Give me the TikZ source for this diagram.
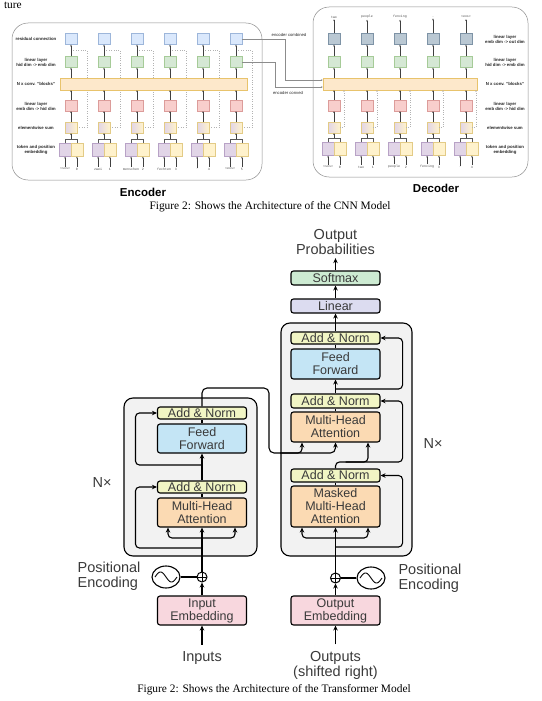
\documentclass[tikz,border=0pt]{standalone}
\usepackage{fontspec}
\setmainfont{Liberation Serif}
\setsansfont{Liberation Sans}
\setmonofont{Liberation Mono}
\usetikzlibrary{arrows.meta,shapes.geometric}
\pgfdeclarelayer{bg}
\pgfsetlayers{bg,main}

% CNN colours
\definecolor{cblue}{HTML}{DAE8FC}\definecolor{cblueD}{HTML}{9DB6DA}
\definecolor{cgreen}{HTML}{D5E8D4}\definecolor{cgreenD}{HTML}{A6CB98}
\definecolor{cred}{HTML}{F8CECC}\definecolor{credD}{HTML}{DC9C9A}
\definecolor{cpurple}{HTML}{E1D5E7}\definecolor{cpurpleD}{HTML}{B8A2C6}
\definecolor{cyellow}{HTML}{FFF2CC}\definecolor{cyellowD}{HTML}{E3CB86}
\definecolor{cconv}{HTML}{FDE8CB}\definecolor{cconvD}{HTML}{E8C36C}
\definecolor{cdark}{HTML}{BAC8D3}\definecolor{cdarkD}{HTML}{7E93A6}
% transformer colours
\definecolor{tsoft}{HTML}{CDEBD2}
\definecolor{tlin}{HTML}{DCDCF0}
\definecolor{tnorm}{HTML}{F1F5C4}
\definecolor{tff}{HTML}{C4E5F5}
\definecolor{tmha}{HTML}{FBDAB3}
\definecolor{temb}{HTML}{F8D7DE}
\definecolor{tstack}{HTML}{F2F2F2}
\definecolor{ttext}{HTML}{3A3A3A}

\tikzset{
  cnnbox/.style={minimum width=11.5pt, minimum height=11pt, inner sep=0pt, line width=.35pt},
  convbox/.style={fill=cconv, draw=cconvD, line width=.45pt, minimum height=12pt, inner sep=0pt},
  cnnarr/.style={-{Stealth[length=1.8pt,width=1.5pt]}, draw=black!75, line width=.3pt},
  cnnline/.style={draw=black!65, line width=.3pt},
  resline/.style={draw=black!30, dotted, line width=.4pt},
  encline/.style={draw=black!45, line width=.35pt},
  cnnframe/.style={draw=black!45, line width=.5pt, rounded corners=16pt},
  cnnlbl/.style={font=\fontsize{4.3}{5}\selectfont\sffamily\bfseries, text=black!85, align=center, inner sep=0pt},
  toklbl/.style={font=\fontsize{3.3}{4}\selectfont\ttfamily, text=black!70, inner sep=1pt},
  partname/.style={font=\fontsize{11.5}{12}\selectfont\sffamily\bfseries},
  capt/.style={font=\fontsize{11.4}{12}\selectfont, anchor=base},
  tblock/.style={draw=black, line width=1.1pt, rounded corners=2.5pt, minimum width=89pt,
    inner sep=0pt, align=center, font=\fontsize{12.5}{13}\selectfont\sffamily, text=ttext},
  tstackbox/.style={draw=black, fill=tstack, line width=1.1pt, rounded corners=9pt},
  tarr/.style={-{Stealth[length=5pt,width=4.5pt]}, line width=1.1pt},
  tline/.style={line width=1.1pt},
  tlbl/.style={font=\fontsize{14.5}{15}\selectfont\sffamily, text=ttext, align=center},
  tplus/.style={circle, draw, fill=white, line width=1pt, minimum size=10pt, inner sep=0pt,
    path picture={\draw[line width=.8pt] (path picture bounding box.north) -- (path picture bounding box.south)
      (path picture bounding box.west) -- (path picture bounding box.east);}},
  tpe/.style={ellipse, draw, fill=white, line width=1.1pt, minimum width=28pt, minimum height=22pt, inner sep=0pt,
    path picture={\draw[line width=.9pt, domain=-1:1, samples=40, shift={(path picture bounding box.center)}]
      plot ({11*\x}, {5*sin(180*\x)});}},
}

\begin{document}
\begin{tikzpicture}[x=1pt, y=-1pt]
\useasboundingbox (0,0) rectangle (541,701);

\node[capt, anchor=base west] (cutline) at (0.5,8.5) {ture};

% ---------- CNN encoder ----------
\draw[cnnframe] (12,23) rectangle (262,180);
\node[convbox, minimum width=187pt] (encconv) at (153.5,84) {};
\foreach \px/\w/\n [count=\i] in {71/{<sos>}/0, 104/zwei/1, 137/menschen/2, 170/fechten/3, 203/./4, 236/{<eos>}/5} {
  \node[cnnbox, fill=cblue, draw=cblueD] (encres\i) at (\px,39) {};
  \node[cnnbox, fill=cgreen, draw=cgreenD] (encout\i) at (\px,62) {};
  \node[cnnbox, fill=cred, draw=credD] (encin\i) at (\px,105.5) {};
  \node[cnnbox, left color=cpurple, right color=cyellow, draw=cyellowD] (encsum\i) at (\px,127.5) {};
  \node[cnnbox, minimum height=13pt, fill=cpurple, draw=cpurpleD, anchor=east] (enctok\i) at (\px,150) {};
  \node[cnnbox, minimum height=13pt, fill=cyellow, draw=cyellowD, anchor=west] (encpos\i) at (\px,150) {};
  \node[toklbl] (encw\i) at (enctok\i |- 0,169) {\w};
  \node[toklbl] (encn\i) at (encpos\i |- 0,169) {\n};
  \draw[cnnarr] (encw\i) -- (enctok\i);
  \draw[cnnarr] (encn\i) -- (encpos\i);
  \draw[cnnline] (enctok\i.north) -- ++(0,-4.5) -| (encpos\i.north);
  \draw[cnnarr] (\px,139) -- (encsum\i);
  \draw[cnnarr] (encsum\i) -- (encin\i);
  \draw[cnnarr] (encin\i) -- (encin\i |- encconv.south);
  \draw[cnnarr] (encout\i |- encconv.north) -- (encout\i);
  \draw[cnnarr] (encout\i) -- (encres\i);
  \begin{pgfonlayer}{bg}
    \draw[resline] (encsum\i.east) -| (\px+16,50) -- (\px+2,50);
  \end{pgfonlayer}
}
\node[cnnlbl] (lres) at (36,39) {residual connection};
\node[cnnlbl] (lhid) at (36,62) {linear layer\\hid dim -> emb dim};
\node[cnnlbl] (lconv) at (36,84) {N x conv. "blocks"};
\node[cnnlbl] (lemb) at (36,106) {linear layer\\emb dim -> hid dim};
\node[cnnlbl] (lsum) at (36,127.5) {elementwise sum};
\node[cnnlbl] (ltok) at (36,150) {token and position\\embedding};
\node[partname] (encname) at (143,192) {Encoder};

% ---------- CNN decoder ----------
\draw[cnnframe] (313,7) rectangle (528,177);
\node[convbox, minimum width=154pt] (decconv) at (400,84) {};
\foreach \px/\w/\n/\o [count=\i] in {334/{<sos>}/0/two, 367/two/1/people, 400/people/2/fencing, 433/fencing/3/., 466/./4/{<eos>}} {
  \node[toklbl] (deco\i) at (\px,17) {\o};
  \node[cnnbox, fill=cdark, draw=cdarkD] (decres\i) at (\px,39) {};
  \node[cnnbox, fill=cgreen, draw=cgreenD] (decout\i) at (\px,62) {};
  \node[cnnbox, fill=cred, draw=credD] (decin\i) at (\px,105.5) {};
  \node[cnnbox, left color=cpurple, right color=cyellow, draw=cyellowD] (decsum\i) at (\px,127.5) {};
  \node[cnnbox, minimum height=13pt, fill=cpurple, draw=cpurpleD, anchor=east] (dectok\i) at (\px,149) {};
  \node[cnnbox, minimum height=13pt, fill=cyellow, draw=cyellowD, anchor=west] (decpos\i) at (\px,149) {};
  \node[toklbl] (decw\i) at (dectok\i |- 0,167) {\w};
  \node[toklbl] (decn\i) at (decpos\i |- 0,167) {\n};
  \draw[cnnarr] (decw\i) -- (dectok\i);
  \draw[cnnarr] (decn\i) -- (decpos\i);
  \draw[cnnline] (dectok\i.north) -- ++(0,-4.5) -| (decpos\i.north);
  \draw[cnnarr] (\px,138) -- (decsum\i);
  \draw[cnnarr] (decsum\i) -- (decin\i);
  \draw[cnnarr] (decin\i) -- (decin\i |- decconv.south);
  \draw[cnnarr] (decout\i |- decconv.north) -- (decout\i);
  \draw[cnnarr] (decout\i) -- (decres\i);
  \draw[cnnarr] (decres\i) -- (deco\i);
  \draw[resline, -{Stealth[length=1.8pt,width=1.5pt]}] (decsum\i.east) -| (\px+10,90);
}
\node[cnnlbl] (rout) at (505,39) {linear layer\\emb dim -> out dim};
\node[cnnlbl] (rhid) at (505,62) {linear layer\\hid dim -> emb dim};
\node[cnnlbl] (rconv) at (505,84) {N x conv. "blocks"};
\node[cnnlbl] (remb) at (505,106) {linear layer\\emb dim -> hid dim};
\node[cnnlbl] (rsum) at (505,127.5) {elementwise sum};
\node[cnnlbl] (rtok) at (505,150) {token and position\\embedding};
\node[partname] (decname) at (436,188) {Decoder};

% encoder -> decoder
\draw[encline, -{Stealth[length=1.8pt,width=1.5pt]}] (encres6.east) -| (285,80) -- (decconv.west |- 0,80);
\draw[encline, -{Stealth[length=1.8pt,width=1.5pt]}] (encout6.east) -| (275,87) -- (decconv.west |- 0,87);
\node[cnnlbl, font=\fontsize{4.2}{5}\selectfont\sffamily] (lcomb) at (289,34.5) {encoder combined};
\node[cnnlbl, font=\fontsize{4.2}{5}\selectfont\sffamily] (lconved) at (288,93) {encoder conved};

\node[capt] (cnncap) at (270,209) {Figure 2: Shows the Architecture of the CNN Model};

% ---------- Transformer ----------
\draw[tstackbox] (124,398) rectangle (257,556);
\draw[tstackbox] (281,323) rectangle (412,556);

% encoder stack
\node[tblock, fill=temb, minimum height=29pt] (inemb) at (202,610.5) {Input\\Embedding};
\node[tlbl] (inputs) at (202,658) {Inputs};
\node[tplus] (encplus) at (202,577) {};
\node[tpe] (encpe) at (166,577) {};
\node[tlbl, align=left, anchor=east] (encpetxt) at (144,576) {Positional\\Encoding};
\node[tblock, fill=tmha, minimum height=29pt] (encmha) at (202,512.5) {Multi-Head\\Attention};
\node[tblock, fill=tnorm, minimum height=12pt] (encnorm1) at (202,487) {Add \& Norm};
\node[tblock, fill=tff, minimum height=29pt] (encff) at (202,438.5) {Feed\\Forward};
\node[tblock, fill=tnorm, minimum height=12pt] (encnorm2) at (202,413) {Add \& Norm};
\node[tlbl] (encnx) at (102,483) {N×};

\coordinate (encsplit) at (202,538);
\coordinate (encres1) at (202,548);
\coordinate (encres2) at (202,465);
\draw[tarr, shorten <=3pt] (inputs) -- (inemb);
\draw[tarr] (inemb) -- (encplus);
\draw[tline] (encpe) -- (encplus);
\draw[tarr] (encplus) -- (encmha);
\draw[tarr, rounded corners=4pt] (encsplit) -| ([xshift=-34pt]encmha.south);
\draw[tarr, rounded corners=4pt] (encsplit) -| ([xshift=33pt]encmha.south);
\draw[tarr, rounded corners=4pt] (encres1) -| ([xshift=-21.5pt]encnorm1.west) -- (encnorm1.west);
\draw[tline] (encmha) -- (encnorm1);
\draw[tarr] (encnorm1) -- (encff);
\draw[tarr, rounded corners=4pt] (encres2) -| ([xshift=-21.5pt]encnorm2.west) -- (encnorm2.west);
\draw[tline] (encff) -- (encnorm2);

% decoder stack
\node[tblock, fill=temb, minimum height=29pt] (outemb) at (335.5,610.5) {Output\\Embedding};
\node[tlbl] (outputs) at (335.5,665) {Outputs\\(shifted right)};
\node[tplus] (decplus) at (335.5,578) {};
\node[tpe] (decpe) at (371,578) {};
\node[tlbl, align=left, anchor=west] (decpetxt) at (395,578) {Positional\\Encoding};
\node[tblock, fill=tmha, minimum height=41pt] (decmmha) at (335.5,506.5) {Masked\\Multi-Head\\Attention};
\node[tblock, fill=tnorm, minimum height=13pt] (decnorm1) at (335.5,475.5) {Add \& Norm};
\node[tblock, fill=tmha, minimum height=30pt] (decmha) at (335.5,427) {Multi-Head\\Attention};
\node[tblock, fill=tnorm, minimum height=14pt] (decnorm2) at (335.5,401) {Add \& Norm};
\node[tblock, fill=tff, minimum height=30pt] (decff) at (335.5,364) {Feed\\Forward};
\node[tblock, fill=tnorm, minimum height=12pt] (decnorm3) at (335.5,338) {Add \& Norm};
\node[tblock, fill=tlin, minimum height=14pt] (linear) at (335.5,306) {Linear};
\node[tblock, fill=tsoft, minimum height=14pt] (softmax) at (335.5,278) {Softmax};
\node[tlbl] (outprob) at (335.5,242) {Output\\Probabilities};
\node[tlbl] (decnx) at (433,444) {N×};

\coordinate (decsplit) at (335.5,538);
\coordinate (decres1) at (335.5,547);
\coordinate (decres2) at (335.5,462);
\coordinate (decres3) at (335.5,389);
\coordinate (encout) at (269,453);
\draw[tarr, shorten <=3pt] (outputs) -- (outemb);
\draw[tarr] (outemb) -- (decplus);
\draw[tline] (decpe) -- (decplus);
\draw[tarr] (decplus) -- (decmmha);
\draw[tarr, rounded corners=4pt] (decsplit) -| ([xshift=-33.5pt]decmmha.south);
\draw[tarr, rounded corners=4pt] (decsplit) -| ([xshift=32.5pt]decmmha.south);
\draw[tarr, rounded corners=4pt] (decres1) -| ([xshift=22pt]decnorm1.east) -- (decnorm1.east);
\draw[tline] (decmmha) -- (decnorm1);
\draw[tarr, rounded corners=4pt] (decnorm1.north) -- (decres2) -| ([xshift=22pt]decnorm2.east) -- (decnorm2.east);
\draw[tarr, rounded corners=4pt] ([xshift=10pt]decres2) -| ([xshift=32.5pt]decmha.south);
\draw[tarr, rounded corners=5pt] (encnorm2.north) |- (269,388) -- (encout) -| (decmha.south);
\draw[tarr, rounded corners=4pt] ([xshift=11pt]encout) -| ([xshift=-33.5pt]decmha.south);
\draw[tline] (decmha) -- (decnorm2);
\draw[tarr] (decnorm2) -- (decff);
\draw[tarr, rounded corners=4pt] (decres3) -| ([xshift=22pt]decnorm3.east) -- (decnorm3.east);
\draw[tline] (decff) -- (decnorm3);
\draw[tarr] (decnorm3) -- (linear);
\draw[tarr] (linear) -- (softmax);
\draw[tarr] (softmax) -- (outprob);

\node[capt] (trfcap) at (274,692) {Figure 2: Shows the Architecture of the Transformer Model};
\end{tikzpicture}
\end{document}
